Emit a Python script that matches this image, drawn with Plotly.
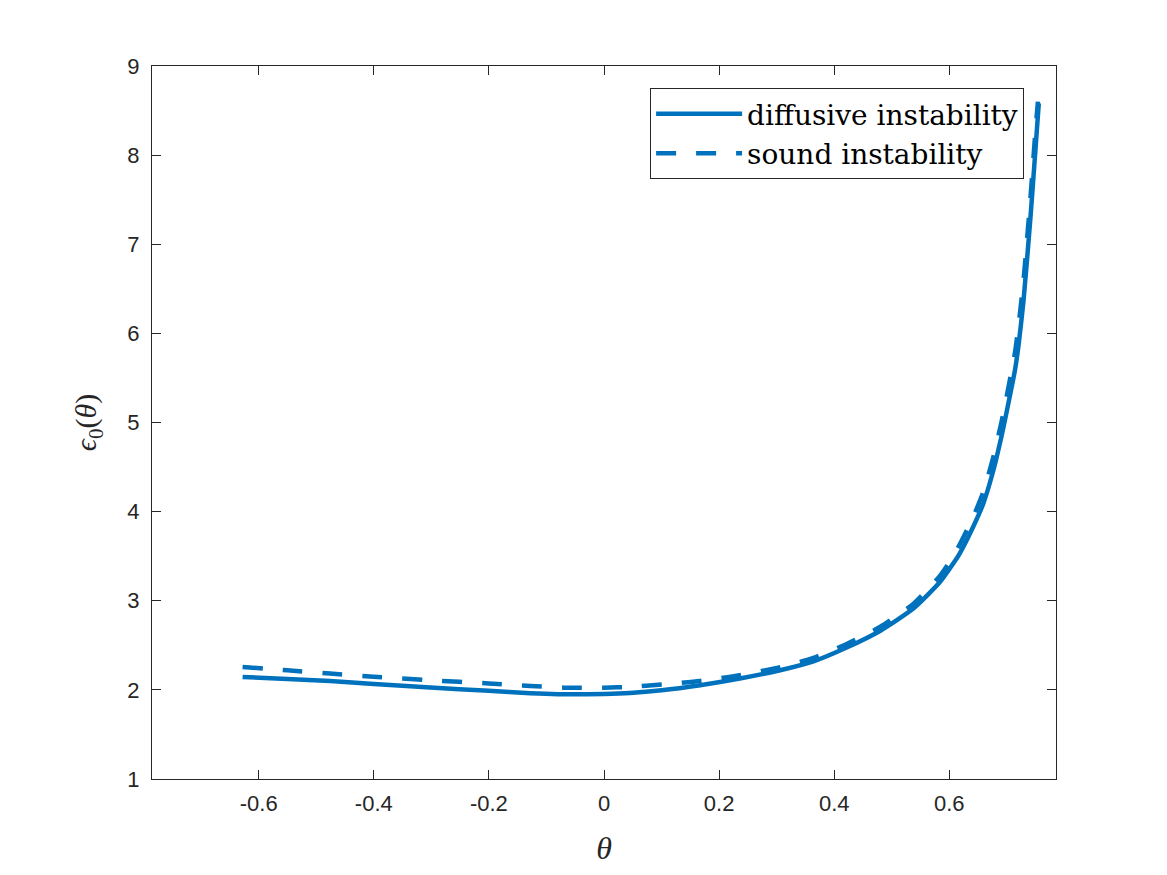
import math
import plotly.graph_objects as go

# ---- data ----
theta_diff = [-0.628, -0.55, -0.476, -0.40, -0.302, -0.20, -0.128, -0.08, 0.0, 0.045,
              0.10, 0.167, 0.236, 0.306, 0.364, 0.4217, 0.4795, 0.5374, 0.5837, 0.6068,
              0.618, 0.6415, 0.659, 0.676, 0.6905, 0.699, 0.714, 0.720, 0.729, 0.741,
              0.750, 0.7555]
eps_diff = [2.145, 2.122, 2.100, 2.066, 2.026, 1.990, 1.962, 1.952, 1.955, 1.965,
            1.995, 2.052, 2.127, 2.220, 2.320, 2.475, 2.661, 2.912, 3.210, 3.417,
            3.530, 3.830, 4.090, 4.450, 4.840, 5.100, 5.585, 5.850, 6.370, 7.300,
            8.090, 8.580]

theta_sound = [-0.628, -0.55, -0.476, -0.40, -0.302, -0.20, -0.128, -0.07, 0.0, 0.045,
               0.10, 0.167, 0.236, 0.306, 0.364, 0.4217, 0.4795, 0.5374, 0.5837, 0.6068,
               0.618, 0.6415, 0.659, 0.676, 0.6905, 0.699, 0.714, 0.720, 0.729, 0.741,
               0.750, 0.754]
eps_sound = [2.257, 2.220, 2.183, 2.148, 2.108, 2.072, 2.044, 2.025, 2.025, 2.033,
             2.060, 2.100, 2.165, 2.255, 2.360, 2.515, 2.705, 2.965, 3.280, 3.500,
             3.630, 3.940, 4.220, 4.600, 5.000, 5.270, 5.780, 6.070, 6.600, 7.520,
             8.300, 8.600]

x_tickvals = [-0.6, -0.4, -0.2, 0, 0.2, 0.4, 0.6]
x_ticktext = ["-0.6", "-0.4", "-0.2", "0", "0.2", "0.4", "0.6"]
y_tickvals = [1, 2, 3, 4, 5, 6, 7, 8, 9]
y_ticktext = ["1", "2", "3", "4", "5", "6", "7", "8", "9"]

names = ["diffusive instability", "sound instability"]

BLUE = "#0072BD"
AX = "#262626"

fig = go.Figure()
fig.add_trace(go.Scatter(x=theta_diff, y=eps_diff, mode="lines", name=names[0],
                         line=dict(color=BLUE, width=4.5, shape="spline", smoothing=0.6)))
fig.add_trace(go.Scatter(x=theta_sound, y=eps_sound, mode="lines", name=names[1],
                         line=dict(color=BLUE, width=4.5, dash="20px,20px",
                                   shape="spline", smoothing=0.6)))

axis_common = dict(showline=True, linecolor=AX, linewidth=1, mirror="allticks",
                   ticks="inside", ticklen=9, tickcolor=AX, tickwidth=1,
                   showgrid=False, zeroline=False,
                   tickfont=dict(family="Liberation Sans, Arial", size=22, color=AX))

fig.update_xaxes(range=[-math.pi / 4, math.pi / 4], tickvals=x_tickvals, ticktext=x_ticktext,
                 ticklabelstandoff=5,
                 title=dict(text="<i>θ</i>", font=dict(family="Liberation Serif", size=32, color=AX),
                            standoff=21),
                 **axis_common)
fig.update_yaxes(range=[1, 9], tickvals=y_tickvals, ticktext=y_ticktext,
                 ticklabelstandoff=7,
                 title=dict(text="<i>ϵ</i><sub>0</sub>(<i>θ</i>)",
                            font=dict(family="Liberation Serif", size=30, color=AX),
                            standoff=21),
                 **axis_common)

fig.update_layout(
    width=1167, height=875,
    margin=dict(l=144, r=119, t=58, b=104),
    paper_bgcolor="white", plot_bgcolor="white",
    showlegend=True,
    legend=dict(x=0.551, y=0.969, xanchor="left", yanchor="top",
                bgcolor="white", bordercolor=AX, borderwidth=1,
                font=dict(family="DejaVu Serif", size=28, color="black"),
                itemwidth=86, tracegroupgap=0),
)

fig.write_html("out.html")
